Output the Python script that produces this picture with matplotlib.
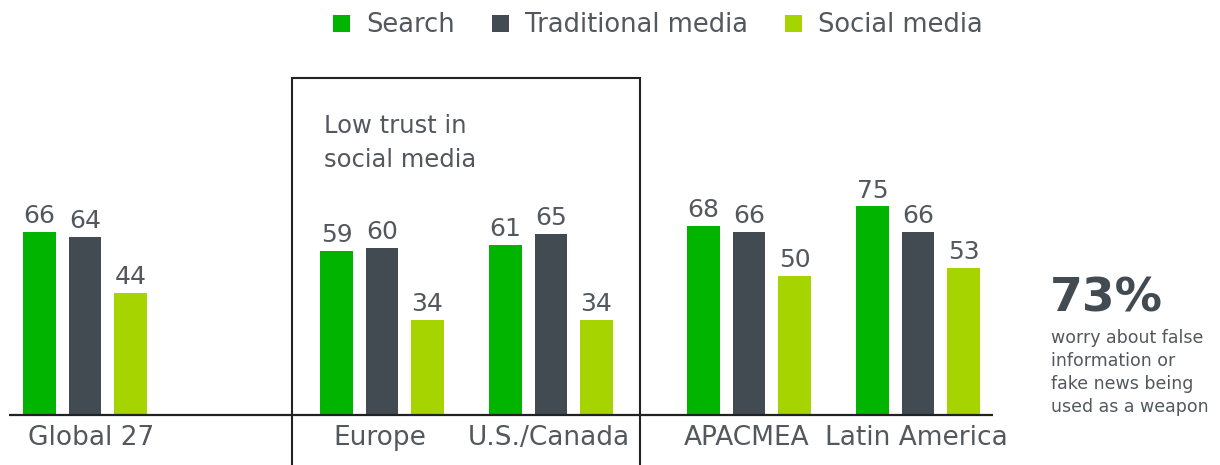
import matplotlib
matplotlib.use("Agg")
import matplotlib.pyplot as plt
from matplotlib.patches import Patch

# ---- data ----
regions = ["Global 27", "Europe", "U.S./Canada", "APACMEA", "Latin America"]
series_names = ["Search", "Traditional media", "Social media"]
search = [66, 59, 61, 68, 75]
traditional = [64, 60, 65, 66, 66]
social = [44, 34, 34, 50, 53]
box_note = ["Low trust in", "social media"]
stat_value = "73%"
stat_lines = ["worry about false", "information or", "fake news being", "used as a weapon"]

# ---- style ----
colors = ["#00B400", "#434B52", "#A6D400"]
text_col = "#52585E"
line_col = "#222222"
plt.rcParams['font.family'] = ['DejaVu Sans']

W, H = 1220, 465
BASE = 415.0          # baseline pixel row
PXU = 2.78            # pixels per unit

def py(y):            # pixel row -> data y
    return (BASE - y) / PXU

fig = plt.figure(figsize=(W / 100, H / 100), dpi=100)
ax = fig.add_axes([0, 0, 1, 1])
ax.set_xlim(0, W)
ax.set_ylim(py(H), py(0))
ax.axis("off")

centers = [85, 382, 551, 749, 918]
offsets = [-45.5, 0, 45.5]
bw = 32.5

for vals, off, c in zip([search, traditional, social], offsets, colors):
    xs = [cx + off for cx in centers]
    ax.bar(xs, vals, width=bw, color=c, linewidth=0, zorder=2)
    for x, v in zip(xs, vals):
        ax.text(x, v + 9 / PXU, str(v), ha="center", va="baseline",
                fontsize=18, color=text_col)

# baseline
ax.plot([9, 993], [0, 0], color=line_col, lw=1.6, zorder=3, solid_capstyle="butt")

# category labels
for cx, lab in zip(centers, regions):
    ax.text(cx + (6 if lab == "Global 27" else -2), py(445), lab, ha="center",
            va="baseline", fontsize=19, color=text_col)

# highlight box
bx0, bx1, btop = 292, 640, py(78)
ax.plot([bx0, bx0, bx1, bx1], [py(H + 5), btop, btop, py(H + 5)],
        color=line_col, lw=1.5, zorder=3, solid_joinstyle="miter")
ax.text(324, py(133), box_note[0], ha="left", va="baseline", fontsize=17.5, color=text_col)
ax.text(324, py(167), box_note[1], ha="left", va="baseline", fontsize=17.5, color=text_col)

# stat
ax.text(1050, py(311), stat_value, ha="left", va="baseline", fontsize=34,
        fontweight="bold", color="#434B52")
for i, s in enumerate(stat_lines):
    ax.text(1051, py(343 + 23 * i), s, ha="left", va="baseline", fontsize=12.5,
            color=text_col)

# legend
handles = [Patch(facecolor=c, edgecolor="none", label=n) for c, n in zip(colors, series_names)]
leg = fig.legend(handles=handles, loc="center left", bbox_to_anchor=(333 / W, 1 - 25.5 / H),
                 ncol=3, frameon=False, fontsize=18.5, handlelength=0.66, handleheight=0.66,
                 handletextpad=0.62, columnspacing=1.45, borderpad=0, borderaxespad=0)
for t in leg.get_texts():
    t.set_color(text_col)

fig.savefig("out.png", dpi=100, facecolor="white")
